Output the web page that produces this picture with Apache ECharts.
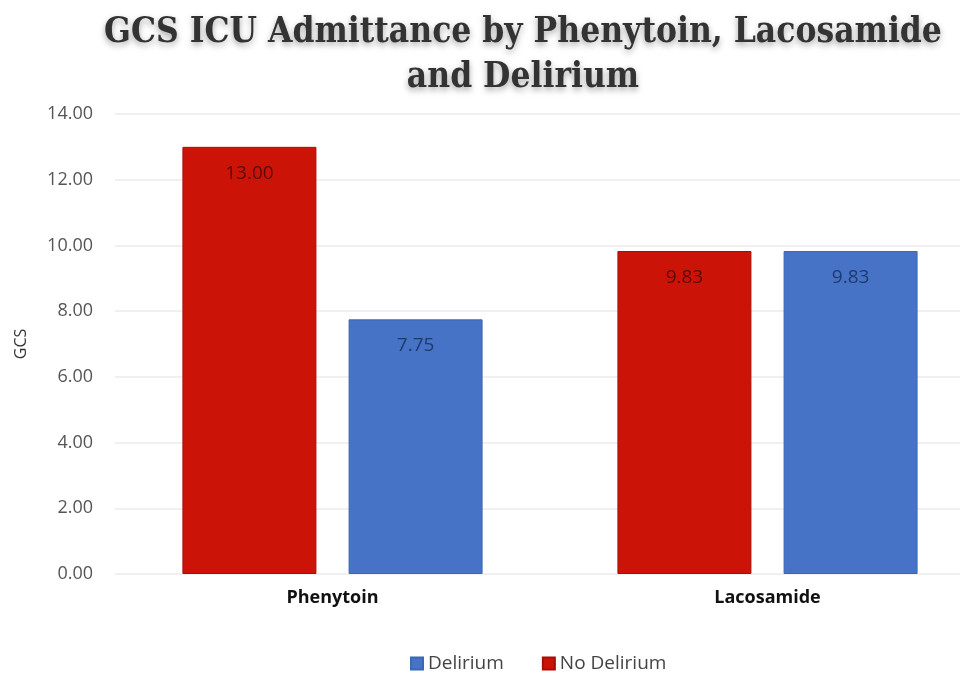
<!DOCTYPE html>
<html>
<head>
<meta charset="utf-8">
<script src="https://cdn.jsdelivr.net/npm/echarts@6/dist/echarts.min.js"></script>
<style>
  html, body { margin: 0; padding: 0; background: #fff; }
  #chart { width: 960px; height: 674px; }
</style>
</head>
<body>
<div id="chart"></div>
<script>
var categories = ['Phenytoin', 'Lacosamide'];
var noDelirium = [13.00, 9.83];
var delirium = [7.75, 9.83];
var yTicks = { min: 0, max: 14, interval: 2 };

var redColor = '#cc1308';
var blueColor = '#4673c6';

var option = {
    backgroundColor: '#ffffff',
    title: {
        text: 'GCS ICU Admittance by Phenytoin, Lacosamide\nand Delirium',
        left: 518,
        top: 5,
        textAlign: 'center',
        textStyle: {
            fontFamily: 'DejaVu Serif Condensed',
            fontWeight: 'bold',
            fontSize: 35,
            lineHeight: 45,
            color: '#333333',
            textShadowColor: 'rgba(0,0,0,0.35)',
            textShadowBlur: 6,
            textShadowOffsetY: 3
        }
    },
    legend: {
        data: ['Delirium', 'No Delirium'],
        top: 649,
        left: 405,
        itemWidth: 12,
        itemHeight: 12,
        itemGap: 38,
        icon: 'rect',
        textStyle: { fontSize: 19, color: '#444', fontFamily: 'Open Sans' }
    },
    grid: {
        left: 115,
        width: 870,
        top: 114,
        bottom: 100,
        outerBoundsMode: 'none'
    },
    xAxis: {
        type: 'category',
        data: categories,
        axisLine: { show: false },
        axisTick: { show: false },
        axisLabel: {
            color: '#111',
            fontWeight: 'bold',
            fontSize: 18,
            fontFamily: 'Open Sans',
            margin: 15
        }
    },
    yAxis: {
        type: 'value',
        min: yTicks.min,
        max: yTicks.max,
        interval: yTicks.interval,
        name: 'GCS',
        nameLocation: 'middle',
        nameGap: 86,
        nameTextStyle: { fontSize: 16, color: '#333', fontFamily: 'Open Sans' },
        axisLabel: {
            formatter: function (v) { return v.toFixed(2); },
            fontSize: 18,
            color: '#555',
            fontFamily: 'Open Sans',
            margin: 22
        },
        splitLine: { lineStyle: { color: '#ebebeb', width: 1.5 } }
    },
    series: [{
        name: 'No Delirium',
        type: 'bar',
        data: noDelirium,
        barWidth: 134,
        barGap: '24%',
        itemStyle: { color: redColor, borderColor: '#a80e06', borderWidth: 1 },
        label: {
            show: true,
            position: 'insideTop',
            distance: 17,
            formatter: function (p) { return p.value.toFixed(2); },
            fontSize: 19,
            color: '#5a0b08',
            fontFamily: 'Open Sans'
        }
    }, {
        name: 'Delirium',
        type: 'bar',
        data: delirium,
        barWidth: 134,
        itemStyle: { color: blueColor, borderColor: '#3d66b3', borderWidth: 1 },
        label: {
            show: true,
            position: 'insideTop',
            distance: 17,
            formatter: function (p) { return p.value.toFixed(2); },
            fontSize: 19,
            color: '#1f3a6e',
            fontFamily: 'Open Sans'
        }
    }]
};

var myChart = echarts.init(document.getElementById('chart'));
myChart.setOption(option);
</script>
</body>
</html>
